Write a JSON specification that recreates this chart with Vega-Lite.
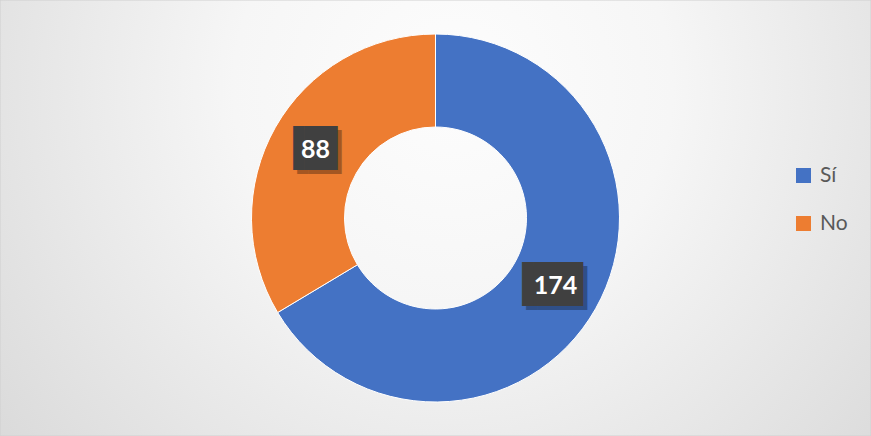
{
  "$schema": "https://vega.github.io/schema/vega-lite/v6.json",
  "width": 871,
  "height": 436,
  "autosize": "none",
  "padding": 0,
  "background": "#e8e8e8",
  "config": {"view": {"stroke": null}},
  "data": {
    "values": [
      {"respuesta": "Sí", "valor": 174},
      {"respuesta": "No", "valor": 88}
    ]
  },
  "layer": [
    {
      "data": {"values": [{}]},
      "mark": {
        "type": "rect",
        "stroke": "#d0d0d0",
        "strokeWidth": 1,
        "fill": {
          "gradient": "radial",
          "x1": 0.52, "y1": 0.35, "r1": 0,
          "x2": 0.52, "y2": 0.35, "r2": 0.72,
          "stops": [
            {"offset": 0, "color": "#fdfdfd"},
            {"offset": 0.35, "color": "#f6f6f6"},
            {"offset": 1, "color": "#d6d6d6"}
          ]
        }
      },
      "encoding": {}
    },
    {
      "mark": {"type": "arc", "outerRadius": 184, "innerRadius": 91, "stroke": "#ffffff", "strokeWidth": 1},
      "encoding": {
        "theta": {"field": "valor", "type": "quantitative", "stack": true},
        "order": {"field": "valor", "sort": "descending"},
        "color": {
          "field": "respuesta",
          "type": "nominal",
          "scale": {"domain": ["Sí", "No"], "range": ["#4472c4", "#ed7d31"]},
          "legend": {
            "orient": "none",
            "legendX": 793,
            "legendY": 165,
            "title": null,
            "symbolType": "square",
            "symbolSize": 225,
            "symbolStrokeWidth": 0,
            "labelFont": "Lato",
            "labelFontSize": 21,
            "labelColor": "#595959",
            "rowPadding": 26,
            "labelOffset": 6,
            "padding": 0
          }
        }
      }
    },
    {
      "mark": {"type": "text", "radius": 138, "font": "DejaVu Sans Mono", "fontSize": 37, "color": "#000000", "opacity": 0.3, "dx": 4, "dy": 4, "baseline": "middle", "align": "center"},
      "encoding": {
        "theta": {"field": "valor", "type": "quantitative", "stack": true},
        "order": {"field": "valor", "sort": "descending"},
        "detail": {"field": "respuesta", "type": "nominal"},
        "text": {"condition": {"test": "datum.respuesta === 'No'", "value": "▐█▌"}, "value": "▐██▎"}
      }
    },
    {
      "mark": {"type": "text", "radius": 138, "font": "DejaVu Sans Mono", "fontSize": 37, "color": "#404040", "baseline": "middle", "align": "center"},
      "encoding": {
        "theta": {"field": "valor", "type": "quantitative", "stack": true},
        "order": {"field": "valor", "sort": "descending"},
        "detail": {"field": "respuesta", "type": "nominal"},
        "text": {"condition": {"test": "datum.respuesta === 'No'", "value": "▐█▌"}, "value": "▐██▎"}
      }
    },
    {
      "mark": {"type": "text", "radius": 138, "font": "Lato", "fontWeight": "bold", "fontSize": 25, "color": "#ffffff", "baseline": "middle", "align": "center"},
      "encoding": {
        "theta": {"field": "valor", "type": "quantitative", "stack": true},
        "order": {"field": "valor", "sort": "descending"},
        "detail": {"field": "respuesta", "type": "nominal"},
        "text": {"field": "valor", "type": "quantitative"}
      }
    }
  ]
}
